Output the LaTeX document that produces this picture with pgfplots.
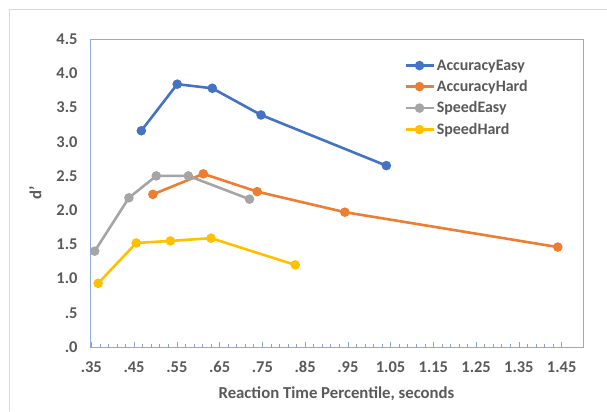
\documentclass[border=0pt]{standalone}
\usepackage{pgfplots}
\pgfplotsset{compat=1.18}
\usepackage{fontspec}
\setmainfont{Carlito}

\definecolor{cBlue}{HTML}{4472C4}
\definecolor{cOrange}{HTML}{ED7D31}
\definecolor{cGray}{HTML}{A5A5A5}
\definecolor{cGold}{HTML}{FFC000}
\definecolor{txt}{HTML}{595959}
\definecolor{frame}{HTML}{8FAADC}
\definecolor{outer}{HTML}{D9D9D9}

\begin{document}
\begin{tikzpicture}[x=1bp,y=1bp]
\path[use as bounding box] (0,0) rectangle (607,411);
\draw[outer, line width=1bp] (9.5,0) -- (9.5,401.5) -- (607,401.5);
\begin{axis}[
  at={(90bp,64bp)}, anchor=south west,
  scale only axis, width=493bp, height=308bp,
  xmin=0.347, xmax=1.50, ymin=0, ymax=4.5,
  xtick={0.35,0.45,...,1.46},
  xticklabels={.35,.45,.55,.65,.75,.85,.95,1.05,1.15,1.25,1.35,1.45},
  ytick={0,0.5,...,4.5},
  yticklabels={.0,.5,1.0,1.5,2.0,2.5,3.0,3.5,4.0,4.5},
  minor x tick num=4,
  axis line style={frame, line width=1bp},
  every tick/.style={frame!80!gray, line width=0.6bp},
  major tick length=5bp, minor tick length=3bp,
  xtick pos=bottom, tick align=inside,
  ytick style={draw=none},
  tick label style={font=\fontsize{16.5}{19}\selectfont\bfseries, text=txt},
  xticklabel style={yshift=-11bp},
  yticklabel style={xshift=-9bp},
  xlabel={Reaction Time Percentile, seconds},
  ylabel={d\symbol{"27}},
  label style={font=\fontsize{16.8}{19}\selectfont\bfseries, text=txt},
  xlabel style={yshift=-7bp},
  ylabel style={yshift=8bp},
  legend style={at={(0.637,0.94)}, anchor=north west, draw=none, fill=none,
    font=\fontsize{16}{19}\selectfont\bfseries, text=txt,
    row sep=4.8bp, inner sep=0pt},
  legend cell align=left,
  legend image code/.code={
    \draw[#1, mark repeat=2, mark phase=2] plot coordinates {(0bp,0bp) (14bp,0bp) (28bp,0bp)};
  },
  every axis plot/.append style={line width=2.6bp, mark=*, mark size=3.4bp},
]
\addplot[cBlue, mark options={fill=cBlue, draw=cBlue}] coordinates {
  (0.467,3.16) (0.551,3.84) (0.633,3.78) (0.747,3.39) (1.040,2.65)};
\addlegendentry{AccuracyEasy}
\addplot[cOrange, mark options={fill=cOrange, draw=cOrange}] coordinates {
  (0.494,2.23) (0.612,2.53) (0.738,2.27) (0.943,1.97) (1.441,1.46)};
\addlegendentry{AccuracyHard}
\addplot[cGray, mark options={fill=cGray, draw=cGray}] coordinates {
  (0.358,1.40) (0.438,2.18) (0.502,2.50) (0.577,2.50) (0.720,2.16)};
\addlegendentry{SpeedEasy}
\addplot[cGold, mark options={fill=cGold, draw=cGold}] coordinates {
  (0.366,0.93) (0.455,1.52) (0.535,1.55) (0.630,1.59) (0.827,1.20)};
\addlegendentry{SpeedHard}
\end{axis}
\end{tikzpicture}
\end{document}
